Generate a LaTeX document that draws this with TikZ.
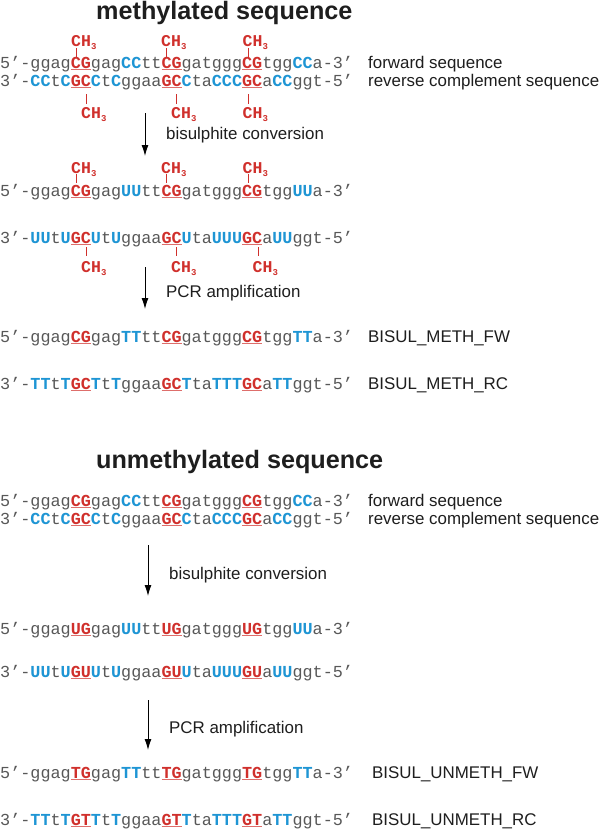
\documentclass[tikz,border=0pt]{standalone}
\usepackage{fontspec}
\setmainfont{Liberation Sans}
\newfontfamily\seqfont{Liberation Mono}
\usetikzlibrary{arrows.meta}
\definecolor{seqred}{HTML}{D0302C}
\definecolor{seqblue}{HTML}{1E95D4}
\definecolor{seqgray}{HTML}{585858}
\definecolor{txtcol}{HTML}{1E1E1E}
\newcommand\sqG[1]{\textcolor{seqgray}{#1}}
\newcommand\sqB[1]{\textcolor{seqblue}{\bfseries #1}}
\newcommand\sqR[1]{{\bfseries\setbox0\hbox{\color{seqred}#1}\textcolor{seqred!70}{\rlap{\rule[-2.4pt]{\wd0}{1.2pt}}}\box0}}
\newcommand\methyl{CH\raisebox{-3pt}{\fontsize{9}{9}\selectfont 3}}
\tikzset{
  seq/.style={anchor=base west, inner sep=0pt, font=\seqfont\fontsize{16.8}{20}\selectfont},
  lbl/.style={anchor=base west, inner sep=0pt, text=txtcol, font=\fontsize{16.9}{20}\selectfont},
  ttl/.style={anchor=base west, inner sep=0pt, text=txtcol, font=\bfseries\fontsize{25.2}{30}\selectfont},
  ch3/.style={anchor=base west, inner sep=0pt, text=seqred, font=\seqfont\bfseries\fontsize{16.5}{18}\selectfont},
  tickline/.style={draw=seqred, line width=0.8pt},
  steparrow/.style={draw=black, line width=0.9pt, -{Latex[length=11pt,width=7pt]}}
}
\begin{document}
\begin{tikzpicture}[x=1pt,y=-1pt]
\useasboundingbox[fill=white] (0,0) rectangle (600,831);
% ---------------- methylated ----------------
\node[ttl] (t1) at (96,19.5) {methylated sequence};
% block 1
\node[seq] (m1f) at (0,68) {\sqG{5’-ggag}\sqR{CG}\sqG{gag}\sqB{CC}\sqG{tt}\sqR{CG}\sqG{gatggg}\sqR{CG}\sqG{tgg}\sqB{CC}\sqG{a-3’}};
\node[seq] (m1r) at (0,86) {\sqG{3’-}\sqB{CC}\sqG{t}\sqB{C}\sqR{GC}\sqB{C}\sqG{t}\sqB{C}\sqG{ggaa}\sqR{GC}\sqB{C}\sqG{ta}\sqB{CCC}\sqR{GC}\sqG{a}\sqB{CC}\sqG{ggt-5’}};
\node[lbl] (l1f) at (368,68) {forward sequence};
\node[lbl] (l1r) at (368,86) {reverse complement sequence};
\foreach \x [count=\i] in {76.5,166.5,248} {
  \node[ch3] (ma\i) at (\x-5.5,46.5) {\methyl};
  \coordinate (mat\i) at (\x,48); \coordinate (mab\i) at (\x,57);
  \draw[tickline] (mat\i) -- (mab\i);
}
\foreach \x [count=\i] in {86.5,176.5,248} {
  \node[ch3] (mb\i) at (\x-5.5,118) {\methyl};
  \coordinate (mbt\i) at (\x,94); \coordinate (mbb\i) at (\x,104);
  \draw[tickline] (mbt\i) -- (mbb\i);
}
\coordinate (a1s) at (145,113); \coordinate (a1e) at (145,156);
\draw[steparrow] (a1s) -- (a1e);
\node[lbl] (s1) at (166,139) {bisulphite conversion};
% block 2
\node[seq] (m2f) at (0,196) {\sqG{5’-ggag}\sqR{CG}\sqG{gag}\sqB{UU}\sqG{tt}\sqR{CG}\sqG{gatggg}\sqR{CG}\sqG{tgg}\sqB{UU}\sqG{a-3’}};
\node[seq] (m2r) at (0,243) {\sqG{3’-}\sqB{UU}\sqG{t}\sqB{U}\sqR{GC}\sqB{U}\sqG{t}\sqB{U}\sqG{ggaa}\sqR{GC}\sqB{U}\sqG{ta}\sqB{UUU}\sqR{GC}\sqG{a}\sqB{UU}\sqG{ggt-5’}};
\foreach \x [count=\i] in {76.5,166.5,248} {
  \node[ch3] (mc\i) at (\x-5.5,173) {\methyl};
  \coordinate (mct\i) at (\x,174); \coordinate (mcb\i) at (\x,183);
  \draw[tickline] (mct\i) -- (mcb\i);
}
\foreach \x [count=\i] in {86.5,176.5,258} {
  \node[ch3] (md\i) at (\x-5.5,272) {\methyl};
  \coordinate (mdt\i) at (\x,247); \coordinate (mdb\i) at (\x,256);
  \draw[tickline] (mdt\i) -- (mdb\i);
}
\coordinate (a2s) at (145,267); \coordinate (a2e) at (145,309);
\draw[steparrow] (a2s) -- (a2e);
\node[lbl] (s2) at (166,297) {PCR amplification};
% block 3
\node[seq] (m3f) at (0,342) {\sqG{5’-ggag}\sqR{CG}\sqG{gag}\sqB{TT}\sqG{tt}\sqR{CG}\sqG{gatggg}\sqR{CG}\sqG{tgg}\sqB{TT}\sqG{a-3’}};
\node[seq] (m3r) at (0,389) {\sqG{3’-}\sqB{TT}\sqG{t}\sqB{T}\sqR{GC}\sqB{T}\sqG{t}\sqB{T}\sqG{ggaa}\sqR{GC}\sqB{T}\sqG{ta}\sqB{TTT}\sqR{GC}\sqG{a}\sqB{TT}\sqG{ggt-5’}};
\node[lbl] (l3f) at (368,342) {BISUL\_METH\_FW};
\node[lbl] (l3r) at (368,389) {BISUL\_METH\_RC};
% ---------------- unmethylated ----------------
\node[ttl] (t2) at (96,468) {unmethylated sequence};
\node[seq] (u1f) at (0,506) {\sqG{5’-ggag}\sqR{CG}\sqG{gag}\sqB{CC}\sqG{tt}\sqR{CG}\sqG{gatggg}\sqR{CG}\sqG{tgg}\sqB{CC}\sqG{a-3’}};
\node[seq] (u1r) at (0,524) {\sqG{3’-}\sqB{CC}\sqG{t}\sqB{C}\sqR{GC}\sqB{C}\sqG{t}\sqB{C}\sqG{ggaa}\sqR{GC}\sqB{C}\sqG{ta}\sqB{CCC}\sqR{GC}\sqG{a}\sqB{CC}\sqG{ggt-5’}};
\node[lbl] (l4f) at (368,506) {forward sequence};
\node[lbl] (l4r) at (368,524) {reverse complement sequence};
\coordinate (a3s) at (148,545); \coordinate (a3e) at (148,596);
\draw[steparrow] (a3s) -- (a3e);
\node[lbl] (s3) at (169,579) {bisulphite conversion};
\node[seq] (u2f) at (0,634) {\sqG{5’-ggag}\sqR{UG}\sqG{gag}\sqB{UU}\sqG{tt}\sqR{UG}\sqG{gatggg}\sqR{UG}\sqG{tgg}\sqB{UU}\sqG{a-3’}};
\node[seq] (u2r) at (0,677) {\sqG{3’-}\sqB{UU}\sqG{t}\sqB{U}\sqR{GU}\sqB{U}\sqG{t}\sqB{U}\sqG{ggaa}\sqR{GU}\sqB{U}\sqG{ta}\sqB{UUU}\sqR{GU}\sqG{a}\sqB{UU}\sqG{ggt-5’}};
\coordinate (a4s) at (148,700); \coordinate (a4e) at (148,750);
\draw[steparrow] (a4s) -- (a4e);
\node[lbl] (s4) at (169,733) {PCR amplification};
\node[seq] (u3f) at (0,778) {\sqG{5’-ggag}\sqR{TG}\sqG{gag}\sqB{TT}\sqG{tt}\sqR{TG}\sqG{gatggg}\sqR{TG}\sqG{tgg}\sqB{TT}\sqG{a-3’}};
\node[seq] (u3r) at (0,825) {\sqG{3’-}\sqB{TT}\sqG{t}\sqB{T}\sqR{GT}\sqB{T}\sqG{t}\sqB{T}\sqG{ggaa}\sqR{GT}\sqB{T}\sqG{ta}\sqB{TTT}\sqR{GT}\sqG{a}\sqB{TT}\sqG{ggt-5’}};
\node[lbl] (l6f) at (372,778) {BISUL\_UNMETH\_FW};
\node[lbl] (l6r) at (372,825) {BISUL\_UNMETH\_RC};
\end{tikzpicture}
\end{document}
